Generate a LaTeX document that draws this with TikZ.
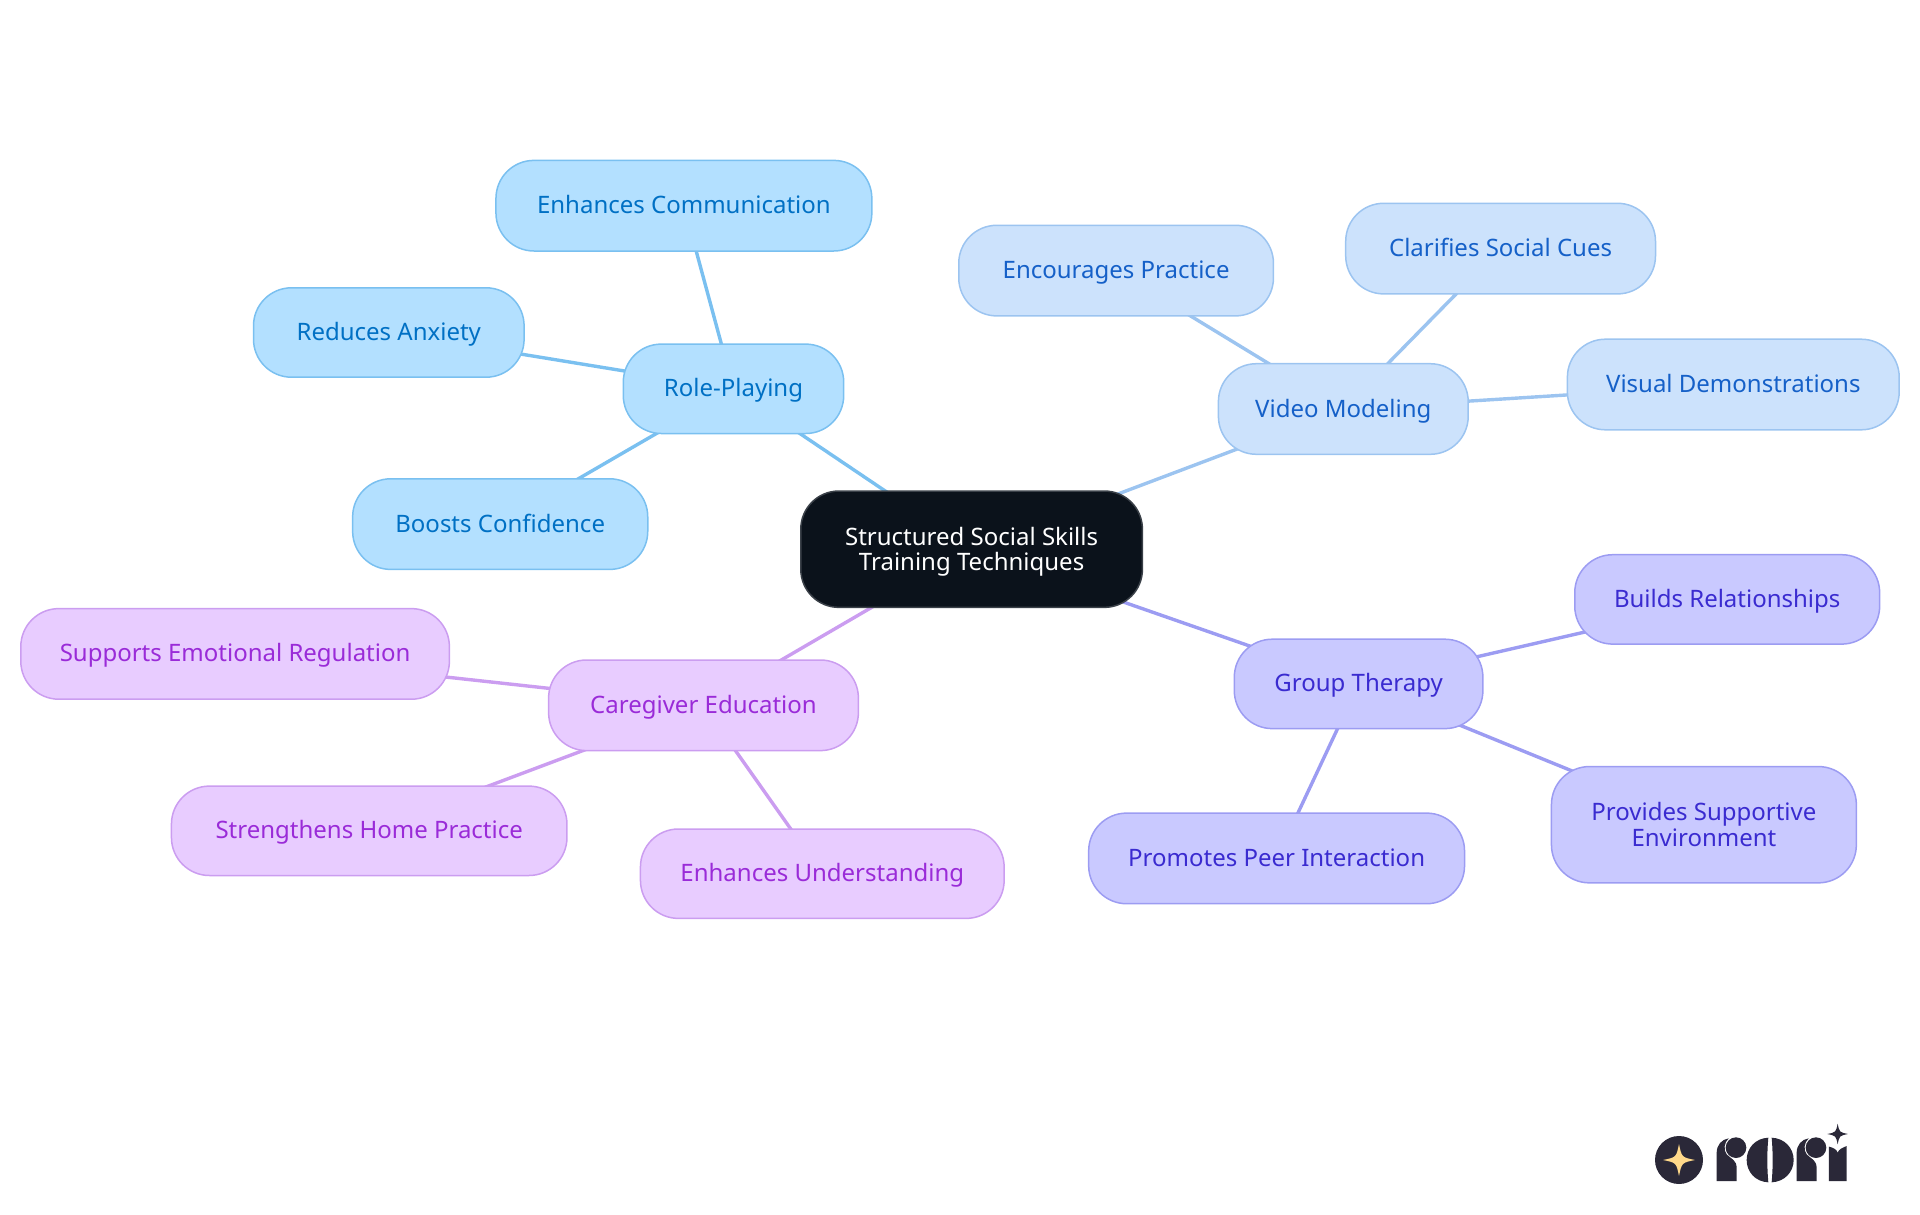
\documentclass[tikz,border=0pt]{standalone}
\usepackage{fontspec}
\setmainfont{Noto Sans}
\usetikzlibrary{backgrounds}
\definecolor{rootfill}{HTML}{0B121B}
\definecolor{rootline}{HTML}{3A4048}
\definecolor{rpfill}{HTML}{B3E0FF}
\definecolor{rpline}{HTML}{7AC0F0}
\definecolor{rptext}{HTML}{0070C4}
\definecolor{vmfill}{HTML}{CCE2FC}
\definecolor{vmline}{HTML}{9CC4F0}
\definecolor{vmtext}{HTML}{1560C8}
\definecolor{gtfill}{HTML}{C9C9FF}
\definecolor{gtline}{HTML}{9C9CF2}
\definecolor{gttext}{HTML}{3A2BD0}
\definecolor{cefill}{HTML}{E8CCFF}
\definecolor{celine}{HTML}{CB9DF0}
\definecolor{cetext}{HTML}{9A2BD8}
\definecolor{logodark}{HTML}{2A2838}
\definecolor{logostar}{HTML}{FFD98A}
\newcommand{\sparklepath}[3]{(#1,#2-#3) .. controls (#1+.17*#3,#2-.17*#3) .. (#1+#3,#2) .. controls (#1+.17*#3,#2+.17*#3) .. (#1,#2+#3) .. controls (#1-.17*#3,#2+.17*#3) .. (#1-#3,#2) .. controls (#1-.17*#3,#2-.17*#3) .. cycle}
\tikzset{
  box/.style={rectangle,rounded corners=38pt,line width=1.5pt,inner sep=0pt,align=center,
    font=\fontsize{24}{25.7}\selectfont,text height=19pt,text depth=3pt},
  twolines/.style={text height=46pt,text depth=3pt},
  rootbox/.style={box,fill=rootfill,draw=rootline,text=white},
  rpbox/.style={box,fill=rpfill,draw=rpline,text=rptext},
  vmbox/.style={box,fill=vmfill,draw=vmline,text=vmtext},
  gtbox/.style={box,fill=gtfill,draw=gtline,text=gttext},
  cebox/.style={box,fill=cefill,draw=celine,text=cetext},
  link/.style={line width=3.4pt},
  logo/.style={fill=logodark,draw=none}
}
\newcommand{\bx}[8]{\node[#2,minimum width=#5pt,minimum height=#6pt,#8] (#1) at (#3,#4) {#7};}
\begin{document}
\begin{tikzpicture}[x=1pt,y=-1pt]
\useasboundingbox (0,0) rectangle (1920,1215);
\bx{root}{rootbox}{971.6}{549.2}{341.6}{116.3}{Structured Social Skills\\Training Techniques}{twolines}
\bx{rp}{rpbox}{733.5}{388.8}{220.4}{89.4}{Role-Playing}{}
\bx{rpa}{rpbox}{683.9}{205.7}{375.9}{90.6}{Enhances Communication}{}
\bx{rpb}{rpbox}{388.8}{332.5}{270.6}{89.4}{Reduces Anxiety}{}
\bx{rpc}{rpbox}{500.2}{524.1}{295.1}{90.6}{Boosts Confidence}{}
\bx{vm}{vmbox}{1343.3}{409}{249.8}{90.6}{Video Modeling}{}
\bx{vma}{vmbox}{1116.1}{270.6}{314.7}{90.6}{Encourages Practice}{}
\bx{vmb}{vmbox}{1500.6}{248.6}{309.8}{90.6}{Clarifies Social Cues}{}
\bx{vmc}{vmbox}{1733.3}{384.5}{331.8}{90.6}{Visual Demonstrations}{}
\bx{gt}{gtbox}{1358.6}{683.9}{248.6}{89.4}{Group Therapy}{}
\bx{gta}{gtbox}{1727.2}{599.4}{304.9}{89.4}{Builds Relationships}{}
\bx{gtb}{gtbox}{1703.9}{824.7}{304.9}{116.3}{Provides Supportive\\Environment}{twolines}
\bx{gtc}{gtbox}{1276.6}{858.4}{375.9}{90.6}{Promotes Peer Interaction}{}
\bx{ce}{cebox}{703.5}{705.3}{309.8}{90.6}{Caregiver Education}{}
\bx{cea}{cebox}{235.1}{653.9}{428.6}{90.6}{Supports Emotional Regulation}{}
\bx{ceb}{cebox}{369.2}{830.8}{395.5}{89.4}{Strengthens Home Practice}{}
\bx{cec}{cebox}{822.3}{873.7}{363.7}{89.4}{Enhances Understanding}{}
\begin{pgfonlayer}{background}
\foreach \a/\b in {root/rp,rp/rpa,rp/rpb,rp/rpc}\draw[link,rpline] (\a.center)--(\b.center);
\foreach \a/\b in {root/vm,vm/vma,vm/vmb,vm/vmc}\draw[link,vmline] (\a.center)--(\b.center);
\foreach \a/\b in {root/gt,gt/gta,gt/gtb,gt/gtc}\draw[link,gtline] (\a.center)--(\b.center);
\foreach \a/\b in {root/ce,ce/cea,ce/ceb,ce/cec}\draw[link,celine] (\a.center)--(\b.center);
\end{pgfonlayer}
% logo
\begin{scope}[shift={(1620,1100)},x=.3333pt,y=-.3333pt]
\fill[logo] (177,180) circle[radius=72];
\fill[logostar] \sparklepath{177}{180}{48};
% first r
\fill[logo] (290,243) -- (290,158) .. controls (290,135) and (305,118) .. (326,115) .. controls (312,128) and (310,150) .. (320,163) .. controls (335,178) and (350,180) .. (350,205) -- (350,243) -- cycle;
\fill[logo] (348,143) circle[radius=31];
% o
\fill[logo] (445,113) .. controls (405,115) and (380,145) .. (380,180) .. controls (380,215) and (405,245) .. (445,247) .. controls (441,205) and (441,155) .. cycle;
\fill[logo] (455,113) .. controls (495,115) and (521,145) .. (521,180) .. controls (521,215) and (495,245) .. (455,247) .. controls (459,205) and (459,155) .. cycle;
% second r
\fill[logo] (530,243) -- (530,158) .. controls (530,135) and (545,118) .. (566,115) .. controls (552,128) and (550,150) .. (560,163) .. controls (575,178) and (590,180) .. (590,205) -- (590,243) -- cycle;
\fill[logo] (588,143) circle[radius=31];
% i
\fill[logo] (627,243) -- (627,140) .. controls (640,143) and (650,148) .. (653,158) .. controls (656,148) and (668,143) .. (680,138) -- (680,243) -- cycle;
\fill[logo] \sparklepath{653}{102}{31};
\end{scope}
\end{tikzpicture}
\end{document}
